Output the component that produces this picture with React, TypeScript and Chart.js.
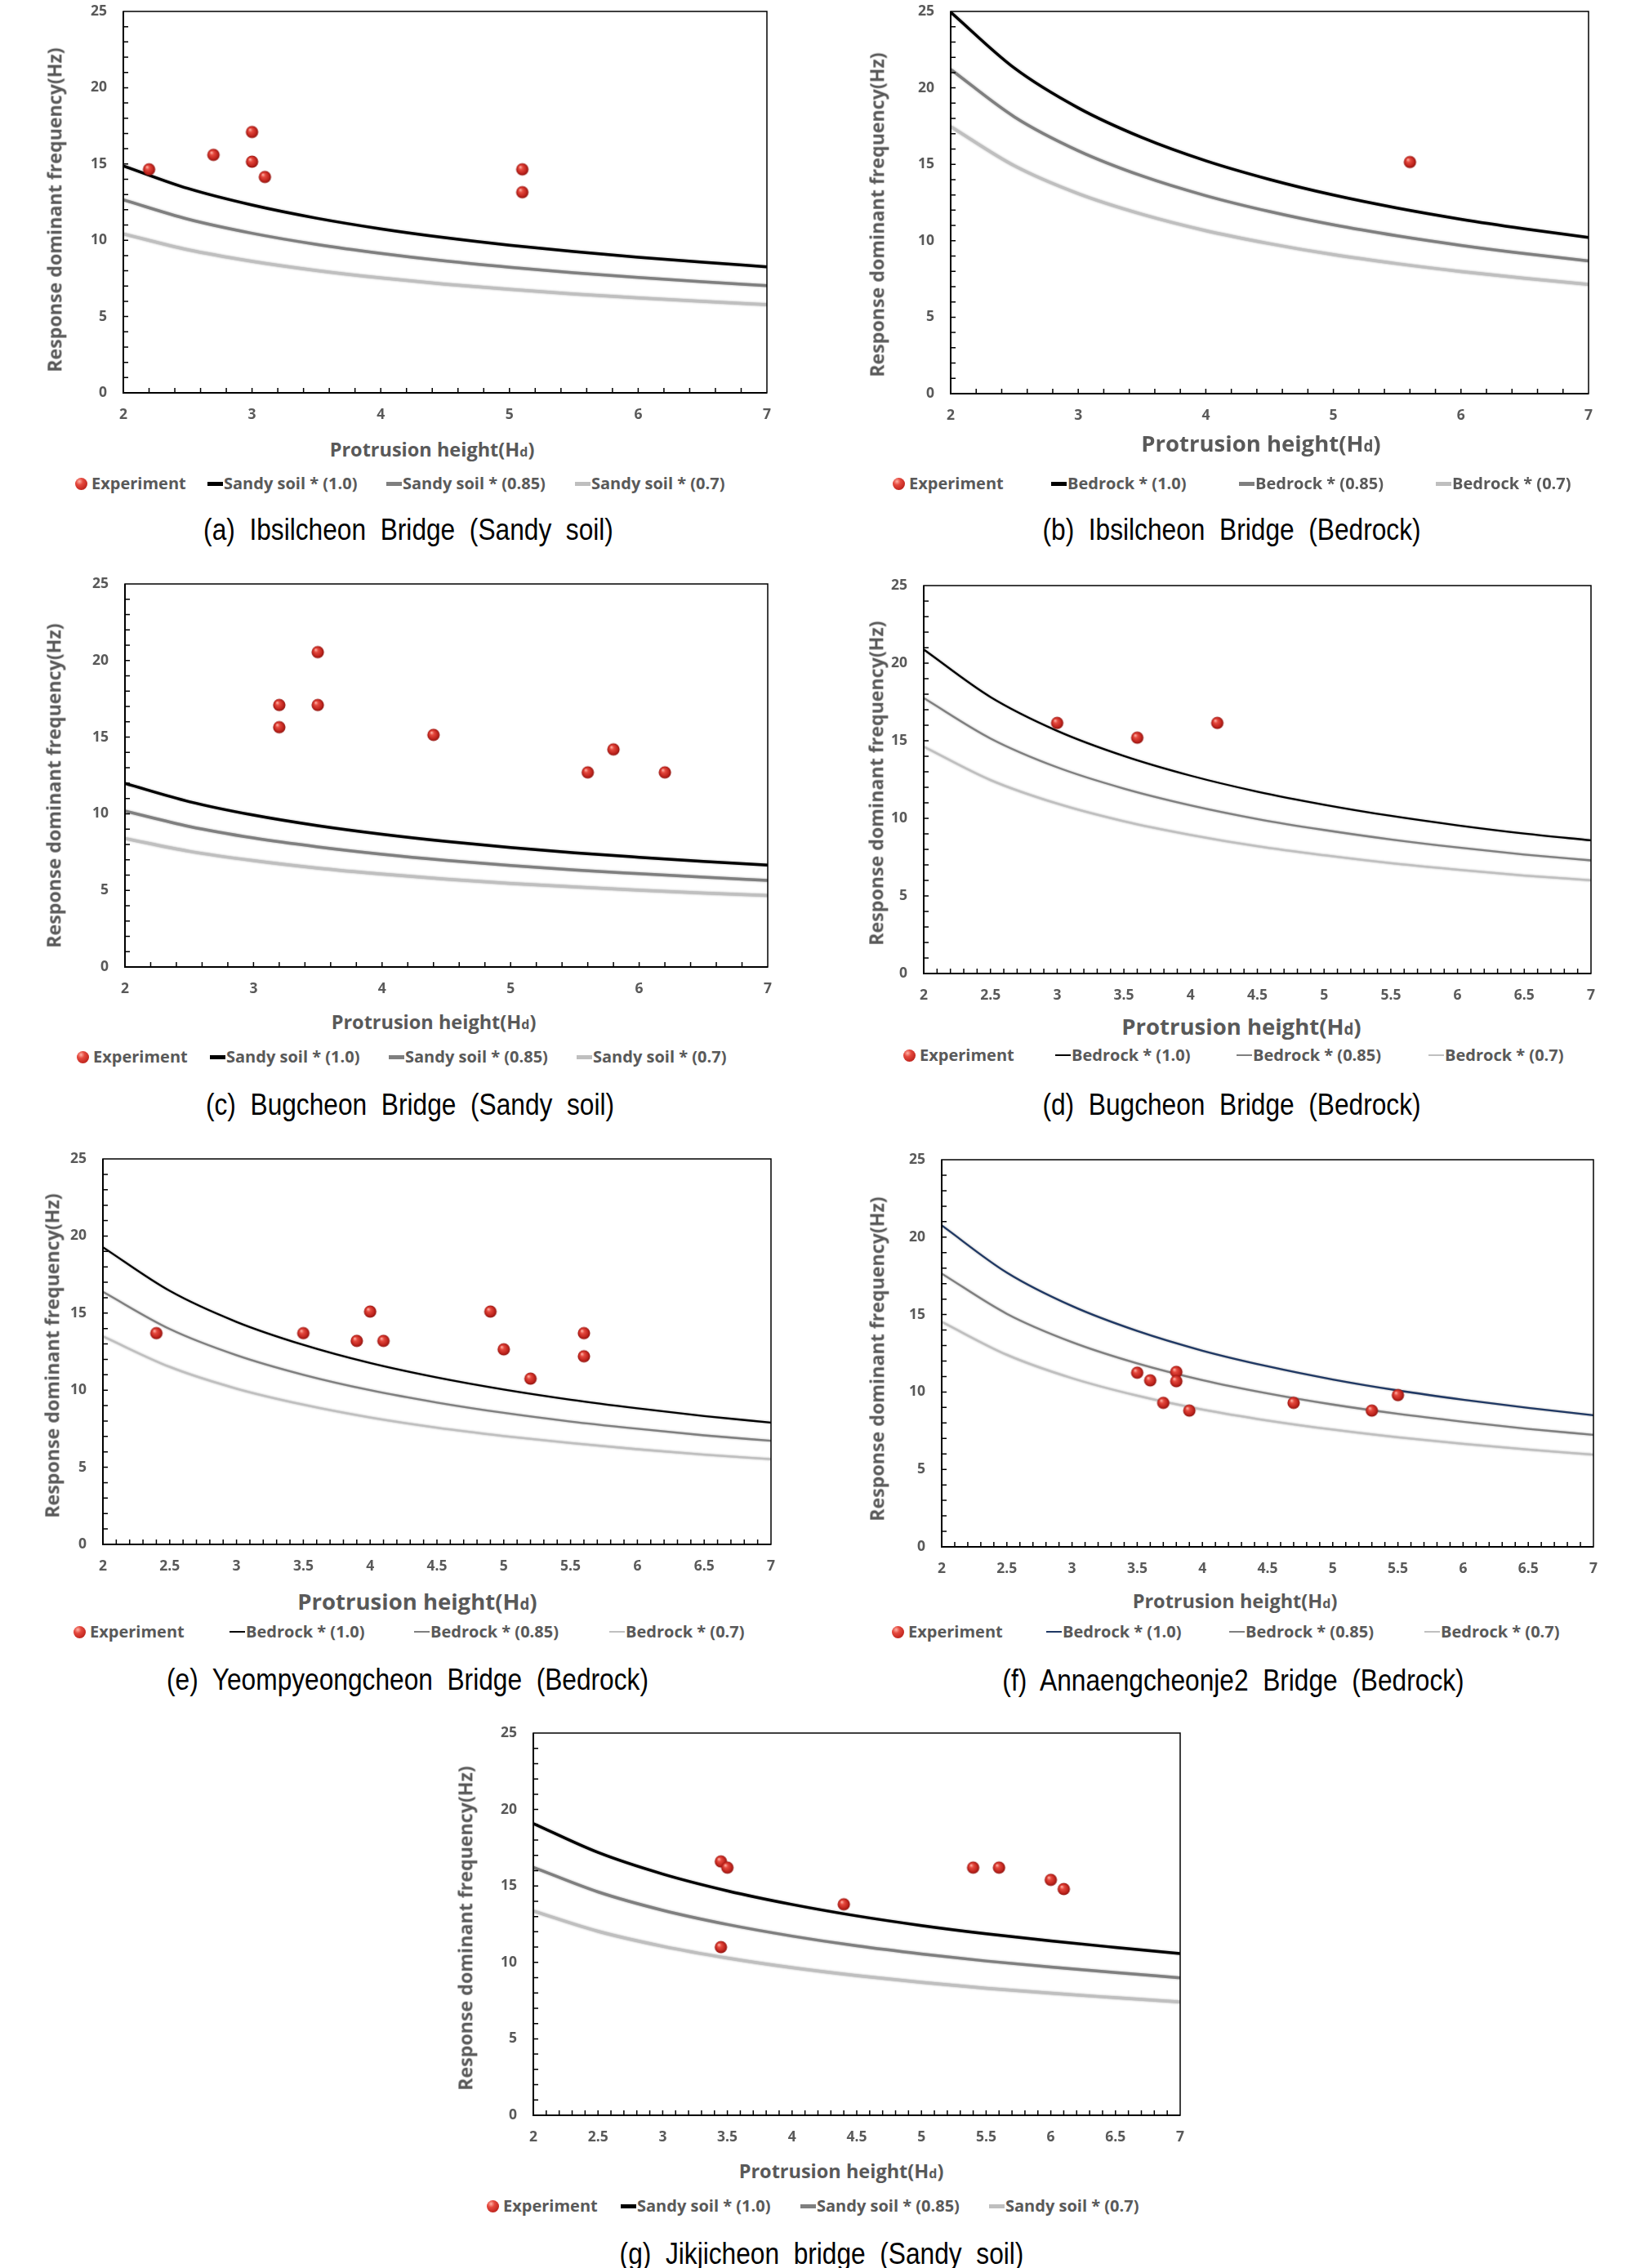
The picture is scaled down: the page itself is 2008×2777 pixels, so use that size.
import React, { useEffect, useRef } from "react";
import { Chart, registerables } from "chart.js";

Chart.register(...registerables);

// ---------------- data ----------------
const lineX = [2, 2.5, 3, 3.5, 4, 4.5, 5, 5.5, 6, 6.5, 7];
const xTicksInt = [2, 3, 4, 5, 6, 7];
const xTicksHalf = [2, 2.5, 3, 3.5, 4, 4.5, 5, 5.5, 6, 6.5, 7];
const yTickVals = [0, 5, 10, 15, 20, 25];

const sandyLabels = ["Experiment", "Sandy soil * (1.0)", "Sandy soil * (0.85)", "Sandy soil * (0.7)"];
const rockLabels = ["Experiment", "Bedrock * (1.0)", "Bedrock * (0.85)", "Bedrock * (0.7)"];

const captions = [
  "(a) Ibsilcheon Bridge (Sandy soil)",
  "(b) Ibsilcheon Bridge (Bedrock)",
  "(c) Bugcheon Bridge (Sandy soil)",
  "(d) Bugcheon Bridge (Bedrock)",
  "(e) Yeompyeongcheon Bridge (Bedrock)",
  "(f) Annaengcheonje2 Bridge (Bedrock)",
  "(g) Jikjicheon bridge (Sandy soil)",
];

// (a) Ibsilcheon, sandy soil
const aExpX = [2.2, 2.7, 3.0, 3.0, 3.1, 5.1, 5.1];
const aExpY = [14.65, 15.6, 17.1, 15.15, 14.15, 14.65, 13.15];
const aLine100 = [14.88, 13.4, 12.31, 11.45, 10.75, 10.17, 9.68, 9.26, 8.89, 8.56, 8.26];
const aLine085 = [12.65, 11.39, 10.46, 9.73, 9.14, 8.64, 8.23, 7.87, 7.56, 7.28, 7.02];
const aLine070 = [10.42, 9.38, 8.62, 8.02, 7.53, 7.12, 6.78, 6.48, 6.22, 5.99, 5.78];

// (b) Ibsilcheon, bedrock
const bExpX = [5.6];
const bExpY = [15.15];
const bLine100 = [24.95, 21.29, 18.69, 16.75, 15.23, 14.01, 12.99, 12.14, 11.41, 10.78, 10.21];
const bLine085 = [21.21, 18.1, 15.89, 14.24, 12.95, 11.91, 11.04, 10.32, 9.7, 9.16, 8.68];
const bLine070 = [17.47, 14.9, 13.08, 11.73, 10.66, 9.81, 9.09, 8.5, 7.99, 7.55, 7.15];

// (c) Bugcheon, sandy soil
const cExpX = [3.2, 3.2, 3.5, 3.5, 4.4, 5.6, 5.8, 6.2];
const cExpY = [17.1, 15.65, 20.55, 17.1, 15.15, 12.7, 14.2, 12.7];
const cLine100 = [11.98, 10.79, 9.91, 9.22, 8.66, 8.19, 7.79, 7.45, 7.16, 6.89, 6.65];
const cLine085 = [10.18, 9.17, 8.42, 7.84, 7.36, 6.96, 6.62, 6.33, 6.09, 5.86, 5.65];
const cLine070 = [8.39, 7.55, 6.94, 6.45, 6.06, 5.73, 5.45, 5.22, 5.01, 4.82, 4.66];

// (d) Bugcheon, bedrock
const dExpX = [3.0, 3.6, 4.2];
const dExpY = [16.15, 15.2, 16.15];
const dLine100 = [20.88, 17.82, 15.64, 14.02, 12.75, 11.72, 10.88, 10.16, 9.55, 9.02, 8.58];
const dLine085 = [17.75, 15.15, 13.29, 11.92, 10.84, 9.96, 9.25, 8.64, 8.12, 7.67, 7.29];
const dLine070 = [14.62, 12.47, 10.95, 9.81, 8.93, 8.2, 7.62, 7.11, 6.69, 6.31, 6.01];

// (e) Yeompyeongcheon, bedrock
const eExpX = [2.4, 3.5, 3.9, 4.0, 4.1, 4.9, 5.0, 5.2, 5.6, 5.6];
const eExpY = [13.7, 13.7, 13.2, 15.1, 13.2, 15.1, 12.65, 10.75, 13.7, 12.2];
const eLine100 = [19.27, 16.44, 14.43, 12.94, 11.76, 10.82, 10.04, 9.38, 8.82, 8.32, 7.9];
const eLine085 = [16.38, 13.97, 12.27, 11.0, 10.0, 9.2, 8.53, 7.97, 7.5, 7.07, 6.72];
const eLine070 = [13.49, 11.51, 10.1, 9.06, 8.23, 7.57, 7.03, 6.57, 6.17, 5.82, 5.53];

// (f) Annaengcheonje2, bedrock
const fExpX = [3.5, 3.6, 3.7, 3.8, 3.8, 3.9, 4.7, 5.3, 5.5];
const fExpY = [11.25, 10.75, 9.3, 11.3, 10.7, 8.8, 9.3, 8.8, 9.8];
const fLine100 = [20.76, 17.71, 15.55, 13.94, 12.67, 11.66, 10.81, 10.1, 9.5, 8.97, 8.5];
const fLine085 = [17.65, 15.05, 13.22, 11.85, 10.77, 9.91, 9.19, 8.59, 8.08, 7.62, 7.23];
const fLine070 = [14.53, 12.4, 10.89, 9.76, 8.87, 8.16, 7.57, 7.07, 6.65, 6.28, 5.95];

// (g) Jikjicheon, sandy soil
const gExpX = [3.45, 3.5, 3.45, 4.4, 5.4, 5.6, 6.0, 6.1];
const gExpY = [16.6, 16.2, 11.0, 13.8, 16.2, 16.2, 15.4, 14.8];
const gLine100 = [19.08, 17.19, 15.78, 14.68, 13.79, 13.04, 12.41, 11.87, 11.4, 10.98, 10.58];
const gLine085 = [16.22, 14.61, 13.41, 12.48, 11.72, 11.08, 10.55, 10.09, 9.69, 9.33, 8.99];
const gLine070 = [13.36, 12.03, 11.05, 10.28, 9.65, 9.13, 8.69, 8.31, 7.98, 7.69, 7.41];

// ---------------- layout / style ----------------
const TEXT_GRAY = "#595959";
const SANS = "'Open Sans', 'Noto Sans', sans-serif";
const GRAYS = ["#000000", "#7f7f7f", "#bfbfbf"];
const NAVY = ["#1f3864", "#7f7f7f", "#bfbfbf"];

const PAD_L = 140;
const PAD_T = 14;
const PAD_R = 20;
const PAD_B = 45;

const panels: any[] = [
  { key: "a", L: 151, T: 14, R: 939, B: 481, xTicks: xTicksInt, minorX: 0.2,
    expX: aExpX, expY: aExpY, lines: [aLine100, aLine085, aLine070], colors: GRAYS, lw: 3.5,
    labels: sandyLabels, yTitle: [67, 257], xTitle: [529, 551, 23.5], legendY: 592,
    legendX: [112, 274, 493, 724], legendLw: 5, caption: [captions[0], 500, 649] },
  { key: "b", L: 1164, T: 14, R: 1945, B: 482, xTicks: xTicksInt, minorX: 0.2,
    expX: bExpX, expY: bExpY, lines: [bLine100, bLine085, bLine070], colors: GRAYS, lw: 3.5,
    labels: rockLabels, yTitle: [1074, 263], xTitle: [1544, 543, 27.5], legendY: 592,
    legendX: [1113, 1307, 1537, 1778], legendLw: 5, caption: [captions[1], 1508, 649] },
  { key: "c", L: 153, T: 715, R: 940, B: 1184, xTicks: xTicksInt, minorX: 0.2,
    expX: cExpX, expY: cExpY, lines: [cLine100, cLine085, cLine070], colors: GRAYS, lw: 3.5,
    labels: sandyLabels, yTitle: [66, 962], xTitle: [531, 1252, 23.5], legendY: 1294,
    legendX: [114, 277, 496, 726], legendLw: 5, caption: [captions[2], 502, 1353] },
  { key: "d", L: 1131, T: 717, R: 1948, B: 1192, xTicks: xTicksHalf, minorX: 0.1,
    expX: dExpX, expY: dExpY, lines: [dLine100, dLine085, dLine070], colors: GRAYS, lw: 2.3,
    labels: rockLabels, yTitle: [1073, 959], xTitle: [1520, 1257, 27.5], legendY: 1292,
    legendX: [1126, 1312, 1534, 1769], legendLw: 2.5, caption: [captions[3], 1508, 1353] },
  { key: "e", L: 126, T: 1419, R: 944, B: 1891, xTicks: xTicksHalf, minorX: 0.1,
    expX: eExpX, expY: eExpY, lines: [eLine100, eLine085, eLine070], colors: GRAYS, lw: 2.3,
    labels: rockLabels, yTitle: [64, 1660], xTitle: [511, 1961, 27.5], legendY: 1998,
    legendX: [110, 301, 527, 766], legendLw: 2.5, caption: [captions[4], 499, 2057] },
  { key: "f", L: 1153, T: 1420, R: 1951, B: 1894, xTicks: xTicksHalf, minorX: 0.1,
    expX: fExpX, expY: fExpY, lines: [fLine100, fLine085, fLine070], colors: NAVY, lw: 2.3,
    labels: rockLabels, yTitle: [1074, 1664], xTitle: [1512, 1961, 23.5], legendY: 1998,
    legendX: [1112, 1301, 1525, 1764], legendLw: 2.5, caption: [captions[5], 1510, 2058] },
  { key: "g", L: 653, T: 2122, R: 1445, B: 2590, xTicks: xTicksHalf, minorX: 0.1,
    expX: gExpX, expY: gExpY, lines: [gLine100, gLine085, gLine070], colors: GRAYS, lw: 3.5,
    labels: sandyLabels, yTitle: [570, 2361], xTitle: [1030, 2659, 23.5], legendY: 2701,
    legendX: [616, 780, 1000, 1231], legendLw: 5, caption: [captions[6], 1006, 2760] },
];

function makeSphere(r: number): HTMLCanvasElement {
  const s = Math.ceil(r * 2 + 2);
  const c = document.createElement("canvas");
  c.width = s;
  c.height = s;
  const ctx = c.getContext("2d")!;
  const cx = s / 2;
  const cy = s / 2;
  const g = ctx.createRadialGradient(cx - r * 0.35, cy - r * 0.4, r * 0.05, cx, cy, r);
  g.addColorStop(0, "#ffb2a6");
  g.addColorStop(0.3, "#e5493e");
  g.addColorStop(0.75, "#bf241d");
  g.addColorStop(1, "#8c1410");
  ctx.fillStyle = g;
  ctx.beginPath();
  ctx.arc(cx, cy, r, 0, Math.PI * 2);
  ctx.fill();
  return c;
}

const SPHERE_BG =
  "radial-gradient(circle at 35% 30%, #ffb2a6 0%, #e5493e 30%, #bf241d 75%, #8c1410 100%)";

function Panel({ p }: { p: any }) {
  const ref = useRef<HTMLCanvasElement | null>(null);
  const W = p.R - p.L + PAD_L + PAD_R;
  const H = p.B - p.T + PAD_T + PAD_B;

  useEffect(() => {
    if (!ref.current) return;
    const sphere = makeSphere(7.6);
    const datasets: any[] = [
      {
        label: p.labels[0],
        data: p.expX.map((x: number, i: number) => ({ x, y: p.expY[i] })),
        pointStyle: sphere,
        pointRadius: 7.6,
        showLine: false,
      },
    ];
    p.lines.forEach((vals: number[], k: number) => {
      datasets.push({
        label: p.labels[k + 1],
        data: lineX.map((x, i) => ({ x, y: vals[i] })),
        showLine: true,
        borderColor: p.colors[k],
        backgroundColor: p.colors[k],
        borderWidth: p.lw,
        pointRadius: 0,
        cubicInterpolationMode: "monotone",
        fill: false,
      });
    });

    const frame = {
      id: "frame",
      beforeDatasetDraw(chart: any, args: any) {
        const ds = chart.data.datasets[args.index];
        if (!ds.showLine) return;
        chart.ctx.save();
        chart.ctx.shadowColor = "rgba(0,0,0,0.35)";
        chart.ctx.shadowBlur = 2.5;
      },
      afterDatasetDraw(chart: any, args: any) {
        const ds = chart.data.datasets[args.index];
        if (!ds.showLine) return;
        chart.ctx.restore();
      },
      afterDraw(chart: any) {
        const { ctx, chartArea: a, scales } = chart;
        const xs = scales.x;
        const ys = scales.y;
        ctx.save();
        ctx.strokeStyle = "#000";
        ctx.lineWidth = 1.5;
        ctx.strokeRect(a.left, a.top, a.right - a.left, a.bottom - a.top);
        ctx.lineWidth = 2;
        ctx.beginPath();
        ctx.moveTo(a.left, a.top);
        ctx.lineTo(a.left, a.bottom);
        ctx.lineTo(a.right, a.bottom);
        ctx.stroke();
        ctx.lineWidth = 1.5;
        ctx.beginPath();
        const nx = Math.round((xs.max - xs.min) / p.minorX);
        for (let i = 1; i < nx; i++) {
          const px = xs.getPixelForValue(xs.min + i * p.minorX);
          ctx.moveTo(px, a.bottom);
          ctx.lineTo(px, a.bottom - 6);
        }
        const ny = Math.round(ys.max - ys.min);
        for (let i = 1; i < ny; i++) {
          const py = ys.getPixelForValue(ys.min + i);
          ctx.moveTo(a.left, py);
          ctx.lineTo(a.left + 6, py);
        }
        ctx.stroke();
        ctx.restore();
      },
    };

    const tickFont = { family: SANS, size: 17.5, weight: "bold" as const };
    const chart = new Chart(ref.current, {
      type: "scatter",
      data: { datasets },
      options: {
        animation: false,
        responsive: false,
        devicePixelRatio: 1,
        layout: { padding: { left: 0, top: PAD_T, right: PAD_R, bottom: 0 } },
        plugins: { legend: { display: false }, tooltip: { enabled: false } },
        scales: {
          x: {
            type: "linear",
            position: "bottom",
            min: 2,
            max: 7,
            grid: { display: false, drawTicks: false },
            border: { display: false },
            ticks: {
              padding: 17,
              font: tickFont,
              color: TEXT_GRAY,
              maxRotation: 0,
              autoSkip: false,
              callback: (v: any) => String(v),
            },
            afterBuildTicks: (s: any) => {
              s.ticks = p.xTicks.map((v: number) => ({ value: v }));
            },
            afterFit: (s: any) => {
              s.height = PAD_B;
              s.paddingLeft = 0;
              s.paddingRight = 0;
            },
          },
          y: {
            type: "linear",
            position: "left",
            min: 0,
            max: 25,
            grid: { display: false, drawTicks: false },
            border: { display: false },
            ticks: {
              padding: 20,
              font: tickFont,
              color: TEXT_GRAY,
              autoSkip: false,
              callback: (v: any) => String(v),
            },
            afterBuildTicks: (s: any) => {
              s.ticks = yTickVals.map((v) => ({ value: v }));
            },
            afterFit: (s: any) => {
              s.width = PAD_L;
              s.paddingTop = 0;
              s.paddingBottom = 0;
            },
          },
        },
      } as any,
      plugins: [frame],
    });
    return () => chart.destroy();
  }, []);

  const legendFont = { fontFamily: SANS, fontWeight: 700, fontSize: 20, color: TEXT_GRAY, lineHeight: 1 } as any;

  return (
    <>
      <div style={{ position: "absolute", left: p.L - PAD_L, top: p.T - PAD_T, width: W, height: H }}>
        <canvas ref={ref} width={W} height={H} style={{ width: W, height: H, display: "block" }} />
      </div>
      {/* y-axis title */}
      <div
        style={{
          position: "absolute",
          left: p.yTitle[0],
          top: p.yTitle[1],
          transform: "translate(-50%, -50%) rotate(-90deg)",
          whiteSpace: "nowrap",
          fontFamily: SANS,
          fontWeight: 700,
          fontSize: 23.2,
          lineHeight: 1,
          color: TEXT_GRAY,
        }}
      >
        Response dominant frequency(Hz)
      </div>
      {/* x-axis title */}
      <div
        style={{
          position: "absolute",
          left: p.xTitle[0],
          top: p.xTitle[1],
          transform: "translate(-50%, -50%)",
          whiteSpace: "nowrap",
          fontFamily: SANS,
          fontWeight: 700,
          fontSize: p.xTitle[2],
          lineHeight: 1,
          color: TEXT_GRAY,
        }}
      >
        Protrusion height(H<span style={{ fontSize: "0.68em" }}>d</span>)
      </div>
      {/* legend */}
      {p.labels.map((lab: string, i: number) => {
        const tx = p.legendX[i];
        return (
          <React.Fragment key={lab}>
            {i === 0 ? (
              <div
                style={{
                  position: "absolute",
                  left: tx - 20,
                  top: p.legendY - 7.5,
                  width: 15,
                  height: 15,
                  borderRadius: "50%",
                  background: SPHERE_BG,
                }}
              />
            ) : (
              <div
                style={{
                  position: "absolute",
                  left: tx - 20,
                  top: p.legendY - p.legendLw / 2,
                  width: 19,
                  height: p.legendLw,
                  background: p.colors[i - 1],
                }}
              />
            )}
            <div
              style={{
                position: "absolute",
                left: tx,
                top: p.legendY,
                transform: "translateY(-50%)",
                whiteSpace: "nowrap",
                ...legendFont,
              }}
            >
              {lab}
            </div>
          </React.Fragment>
        );
      })}
      {/* caption */}
      <div
        style={{
          position: "absolute",
          left: p.caption[1],
          top: p.caption[2],
          transform: "translate(-50%, -50%) scaleX(0.88)",
          whiteSpace: "pre",
          fontFamily: "'Liberation Sans', Arial, sans-serif",
          fontSize: 36,
          lineHeight: 1,
          wordSpacing: 10,
          color: "#000",
        }}
      >
        {p.caption[0]}
      </div>
    </>
  );
}

export default function App() {
  return (
    <div
      style={{
        position: "absolute",
        left: 0,
        top: 0,
        width: 2008,
        height: 2777,
        background: "#ffffff",
        overflow: "hidden",
      }}
    >
      {panels.map((p) => (
        <Panel key={p.key} p={p} />
      ))}
    </div>
  );
}
